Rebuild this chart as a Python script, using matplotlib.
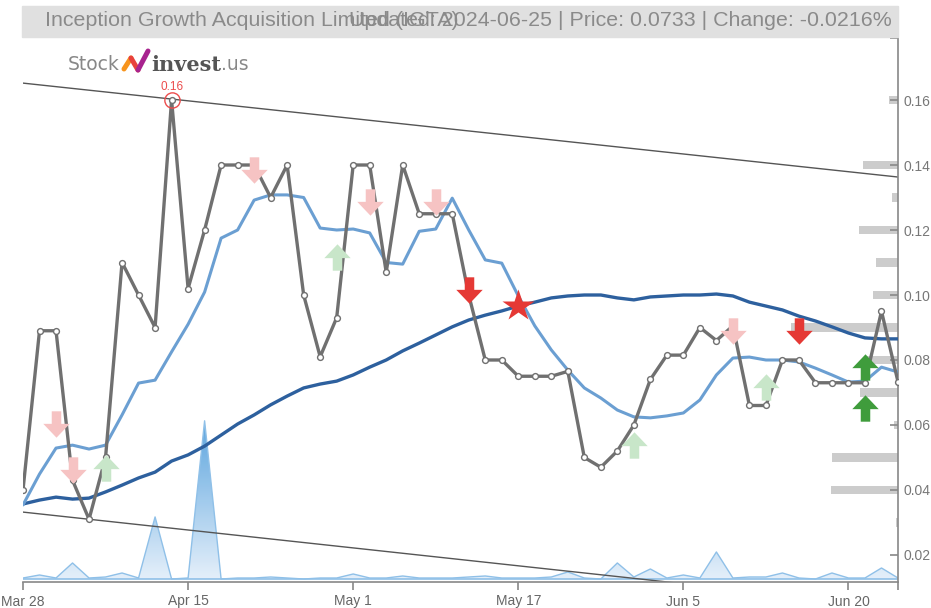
import numpy as np
import matplotlib
matplotlib.use("Agg")
import matplotlib.pyplot as plt
from matplotlib.path import Path
from matplotlib.patches import Rectangle
from matplotlib import font_manager

# ---- data ----
date_labels = ["Mar 28", "Apr 15", "May 1", "May 17", "Jun 5", "Jun 20"]
date_idx = [0, 10, 20, 30, 40, 50]

price = [0.040, 0.089, 0.089, 0.043, 0.031, 0.050, 0.110, 0.100, 0.090, 0.160,
         0.102, 0.120, 0.140, 0.140, 0.140, 0.130, 0.140, 0.100, 0.081, 0.093,
         0.140, 0.140, 0.107, 0.140, 0.125, 0.125, 0.125, 0.100, 0.080, 0.080,
         0.075, 0.075, 0.075, 0.0765, 0.050, 0.047, 0.052, 0.060, 0.074, 0.0815,
         0.0815, 0.090, 0.086, 0.0905, 0.066, 0.066, 0.080, 0.080, 0.073, 0.073,
         0.073, 0.073, 0.095, 0.0733]

ma_short = [0.0354, 0.0449, 0.0529, 0.0538, 0.0526, 0.0538, 0.0631, 0.0729, 0.0738, 0.0825,
            0.0910, 0.1009, 0.1175, 0.1200, 0.1292, 0.1308, 0.1308, 0.1300, 0.1206, 0.1200,
            0.1203, 0.1191, 0.1100, 0.1095, 0.1196, 0.1203, 0.1298, 0.1200, 0.1108, 0.1098,
            0.0997, 0.0905, 0.0831, 0.0769, 0.0714, 0.0683, 0.0646, 0.0625, 0.0622, 0.0628,
            0.0637, 0.0677, 0.0754, 0.0806, 0.0809, 0.0800, 0.0800, 0.0794, 0.0775, 0.0754,
            0.0732, 0.0735, 0.0778, 0.0763]

ma_long = [0.0357, 0.0369, 0.0378, 0.0372, 0.0375, 0.0394, 0.0415, 0.0437, 0.0455, 0.0489,
           0.0508, 0.0535, 0.0569, 0.0603, 0.0631, 0.0662, 0.0689, 0.0714, 0.0726, 0.0735,
           0.0754, 0.0778, 0.0800, 0.0828, 0.0852, 0.0877, 0.0902, 0.0923, 0.0938, 0.0951,
           0.0966, 0.0978, 0.0991, 0.0997, 0.1000, 0.1000, 0.0991, 0.0985, 0.0994, 0.0997,
           0.1000, 0.1000, 0.1003, 0.0997, 0.0978, 0.0966, 0.0954, 0.0935, 0.0920, 0.0902,
           0.0883, 0.0868, 0.0865, 0.0865]

# volume, thousands of shares
volume = [1, 4, 1, 16, 1, 2, 6, 1, 62, 0,
          1, 158, 0, 1, 1, 2, 1, 0, 1, 1,
          5, 1, 1, 3, 1, 1, 1, 2, 3, 1,
          1, 1, 2, 7, 1, 0, 16, 2, 10, 1,
          4, 1, 27, 1, 2, 2, 6, 1, 0, 6,
          1, 1, 11, 1]

# volume-at-price profile on the right edge
profile_levels = [0.16, 0.14, 0.13, 0.12, 0.11, 0.10, 0.09, 0.08, 0.07, 0.06, 0.05, 0.04, 0.03]
profile_size = [0.55, 2.1, 0.36, 2.36, 1.33, 1.5, 6.5, 1.9, 2.3, 0.25, 4.0, 4.06, 0.12]

# trend channel (start, end values)
channel_upper = [0.1652, 0.1363]
channel_lower = [0.0332, 0.0040]

# signals: (index, level)
sell_weak = [(2, 0.0603), (3, 0.0462), (14, 0.1385), (21, 0.1286), (25, 0.1286), (43, 0.0889)]
buy_weak = [(5, 0.0468), (19, 0.1117), (37, 0.0538), (45, 0.0717)]
sell_strong = [(27, 0.1015), (47, 0.0889)]
buy_strong = [(51, 0.0778), (51, 0.0652)]
star_signal = [(30, 0.0966)]

title_left = "Inception Growth Acquisition Limited (IGTA)"
title_right = "Updated: 2024-06-25 | Price: 0.0733 | Change: -0.0216%"

# ---- fonts ----
names = {f.name for f in font_manager.fontManager.ttflist}
cond = "Liberation Sans Narrow" if "Liberation Sans Narrow" in names else "Liberation Sans"

W, H = 931, 608
fig = plt.figure(figsize=(W / 100, H / 100), dpi=100)
rect = [23 / W, 1 - 582 / H, (898 - 23) / W, (582 - 38) / H]

n = len(price)
x = np.arange(n)
xmax = n - 1

# volume axis in the background
axv = fig.add_axes(rect)
vmax = max(volume)
axv.set_xlim(0, xmax)
axv.set_ylim(-vmax * 0.019, vmax * 3.42)
axv.axis("off")
poly = axv.fill_between(x, 0, volume, color="none", lw=0)
grad = np.linspace(0, 1, 256).reshape(-1, 1)
cmap = matplotlib.colors.LinearSegmentedColormap.from_list("v", ["#e2eefa", "#4a9bdb"])
im = axv.imshow(grad, extent=[0, xmax, 0, vmax], origin="lower", aspect="auto",
                cmap=cmap, alpha=0.9, zorder=1)
im.set_clip_path(poly.get_paths()[0], transform=axv.transData)
axv.plot(x, volume, color="#8fc0e8", lw=1, zorder=2)
axv.axhline(0, color="#8fc0e8", lw=1.2, zorder=2)

# main price axis
ax = fig.add_axes(rect)
ax.set_facecolor("none")
ax.set_xlim(0, xmax)
ax.set_ylim(0.01169, 0.17908)

ax.barh(profile_levels, [-s for s in profile_size], left=xmax, height=0.0025,
        color="#cccccc", zorder=1)

ax.plot([0, xmax], channel_upper, color="#555555", lw=1, zorder=2)
ax.plot([0, xmax], channel_lower, color="#555555", lw=1, zorder=2)

ax.plot(x, ma_long, color="#2d609e", lw=2.4, zorder=3, solid_capstyle="round")
ax.plot(x, ma_short, color="#6b9fd2", lw=2.2, zorder=3, solid_capstyle="round")
ax.plot(x, price, color="#707070", lw=2.4, zorder=4, marker="o", ms=4.2,
        mfc="white", mec="#707070", mew=1)

# highest point
imax = int(np.argmax(price))
ax.plot(imax, price[imax], marker="o", ms=11, mfc="none", mec="#ec4c4c", mew=1, zorder=5)
ax.annotate(f"{price[imax]:.2f}", (imax, price[imax]), xytext=(0, 5),
            textcoords="offset points", ha="center", va="bottom",
            color="#ec4c4c", fontsize=8.5, family=cond)

# arrow markers
down = Path([(-0.36, 1), (0.36, 1), (0.36, 0.05), (1, 0.05), (0, -1), (-1, 0.05),
             (-0.36, 0.05), (-0.36, 1)],
            [Path.MOVETO] + [Path.LINETO] * 6 + [Path.CLOSEPOLY])
up = Path([(vx, -vy) for vx, vy in down.vertices], down.codes)


def draw(points, marker, color, size, z):
    xs = [p[0] for p in points]
    ys = [p[1] for p in points]
    ax.plot(xs, ys, ls="none", marker=marker, ms=size, mfc=color, mec="none", zorder=z)


draw(sell_weak, down, "#f6c3c3", 19, 6)
draw(buy_weak, up, "#c8e6c9", 19, 6)
draw(sell_strong, down, "#e53935", 19, 7)
draw(buy_strong, up, "#3f9c3c", 19, 7)
draw(star_signal, "*", "#e53935", 24, 7)

# axes styling
for s in ["left", "top"]:
    ax.spines[s].set_visible(False)
for s in ["right", "bottom"]:
    ax.spines[s].set_color("#888888")
    ax.spines[s].set_linewidth(1.2)
ax.yaxis.tick_right()
yt = np.arange(0.02, 0.161, 0.02)
ax.set_yticks(yt)
ax.set_yticklabels([f"{v:.2f}" for v in yt])
ax.set_yticks([ax.get_ylim()[1]], minor=True)
ax.tick_params(axis="y", which="both", direction="in", length=6, width=1.2,
               color="#888888", labelcolor="#777777", labelsize=10, pad=4)
ax.set_xticks(date_idx)
ax.set_xticklabels(date_labels)
ax.set_xticks([xmax], minor=True)
ax.tick_params(axis="x", which="both", direction="out", length=6, width=1.2,
               color="#888888", labelcolor="#666666", labelsize=10, pad=3)
for lab in ax.get_xticklabels() + ax.get_yticklabels():
    lab.set_family(cond)

# title banner
fig.patches.append(Rectangle((22 / W, 1 - 37 / H), (898 - 22) / W, 31 / H,
                             transform=fig.transFigure, color="#e0e0e0", zorder=0))
fig.text(45 / W, 1 - 21 / H, title_left, ha="left", va="center", fontsize=15.4,
         color="#8a8a8a", family=cond)
fig.text(892 / W, 1 - 21 / H, title_right, ha="right", va="center", fontsize=15.4,
         color="#8a8a8a", family=cond)

# logo
fig.text(68 / W, 1 - 65 / H, "Stock", ha="left", va="center", fontsize=13.5,
         color="#888888", family="DejaVu Sans")
check = [(124, 69), (131, 58), (138, 70), (148, 51)]
check_colors = ["#f7941d", "#e8413c", "#a8238f"]
for (x0, y0), (x1, y1), c in zip(check[:-1], check[1:], check_colors):
    fig.lines.append(plt.Line2D([x0 / W, x1 / W], [1 - y0 / H, 1 - y1 / H],
                                transform=fig.transFigure, color=c, lw=3.6,
                                solid_capstyle="round"))
t_inv = fig.text(151 / W, 1 - 65 / H, "invest", ha="left", va="center", fontsize=15,
                 color="#555555", family="DejaVu Serif", weight="bold")
ax.annotate(".us", xy=(1, 0.5), xycoords=t_inv, xytext=(0, 0),
            textcoords="offset points", ha="left", va="center", fontsize=13.5,
            color="#888888", family="DejaVu Sans", annotation_clip=False)

fig.savefig("out.png", dpi=100)
